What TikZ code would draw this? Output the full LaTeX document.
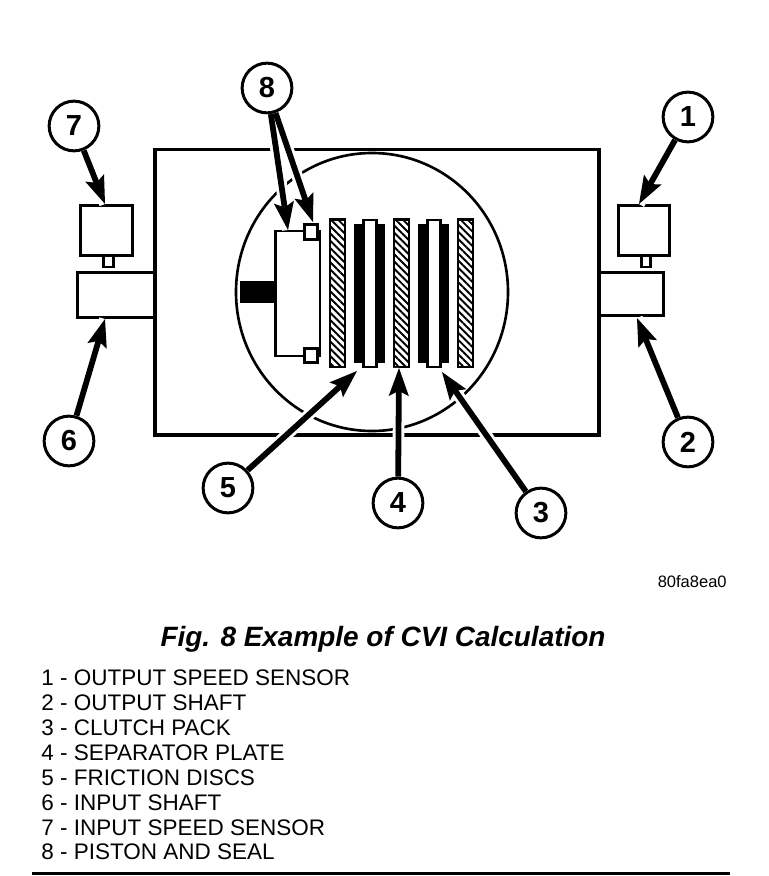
\documentclass[tikz,border=0pt]{standalone}
\usepackage{fontspec}
\setmainfont{Liberation Sans}
\usetikzlibrary{arrows.meta,patterns.meta}
\tikzset{
    part/.style={draw, line width=1.7pt, fill=white},
    plate/.style={draw, line width=1.5pt, pattern={Lines[angle=-45, distance=2.9pt, line width=1.1pt]}},
    disc/.style={fill=black},
    callout/.style={draw, circle, line width=1.7pt, fill=white, minimum size=28.3pt, inner sep=0pt, font=\fontsize{16.5}{17}\selectfont\bfseries},
    lead/.style={line width=3.3pt, -{Stealth[length=16pt, width=11.5pt, inset=3pt, line width=0pt]}},
    halo/.style={line width=6.6pt, draw=white, shorten >=9pt},
    legend/.style={anchor=base west, inner sep=0pt, font=\fontsize{12.8}{14}\selectfont}
}

\begin{document}
\begin{tikzpicture}[x=0.02cm, y=-0.02cm, line join=miter]
    \useasboundingbox (0,0) rectangle (768,876);

    % Callouts
    \node[callout] (N1) at (688,117) {1};
    \node[callout] (N2) at (688,442) {2};
    \node[callout] (N3) at (541,513) {3};
    \node[callout] (N4) at (398,503) {4};
    \node[callout] (N5) at (228,488) {5};
    \node[callout] (N6) at (69,441) {6};
    \node[callout] (N7) at (74,126) {7};
    \node[callout] (N8) at (267,88) {8};

    % Arrow tips
    \coordinate (T1) at (639,204);
    \coordinate (T2) at (637,318);
    \coordinate (T3) at (442,372);
    \coordinate (T4) at (399,368);
    \coordinate (T5) at (357,371);
    \coordinate (T6) at (105,319);
    \coordinate (T7) at (105,204);
    \coordinate (T8a) at (288,230);
    \coordinate (T8b) at (313,222);

    % Housing and circle
    \draw[line width=2.1pt] (155,149.5) rectangle (599,435);
    \draw[line width=1.5pt] (372,292) ellipse [x radius=136, y radius=139];

    % Input side
    \draw[part] (77.5,272.5) -- (154,272.5) -- (154,317.5) -- (77.5,317.5) -- cycle;
    \draw[part] (103.5,256) rectangle (113.5,267);
    \draw[part] (80.5,205.5) rectangle (132.5,255.5);

    % Output side
    \draw[part] (600,272.5) -- (663.5,272.5) -- (663.5,315.5) -- (600,315.5) -- cycle;
    \draw[part] (641.5,256) rectangle (650.5,267);
    \draw[part] (618.5,205.5) rectangle (669.5,255.5);

    % Piston and seals
    \fill (240,281) rectangle (275,303);
    \draw[part] (275.5,231) rectangle (320,356);
    \draw[part] (304.5,224.5) rectangle (317.5,239.5);
    \draw[part] (304.5,348.5) rectangle (317.5,362.5);

    % Separator plates
    \draw[plate] (330,219.5) rectangle (345,367);
    \draw[plate] (394,219.5) rectangle (409,367);
    \draw[plate] (458,219.5) rectangle (473,367);

    % Friction discs
    \fill[disc] (354,224) rectangle (385,363);
    \draw[part] (363.5,220) rectangle (376.5,367);
    \fill[disc] (418,224) rectangle (449,363);
    \draw[part] (427.5,220) rectangle (440.5,367);

    % White gaps under the arrows
    \draw[halo] (N1) -- (T1) (N2) -- (T2) (N3) -- (T3) (N4) -- (T4) (N5) -- (T5)
        (N6) -- (T6) (N7) -- (T7) (N8) -- (T8a) (N8) -- (T8b);

    % Arrows
    \draw[lead] (N1) -- (T1);
    \draw[lead] (N2) -- (T2);
    \draw[lead] (N3) -- (T3);
    \draw[lead] (N4) -- (T4);
    \draw[lead] (N5) -- (T5);
    \draw[lead] (N6) -- (T6);
    \draw[lead] (N7) -- (T7);
    \draw[lead] (N8) -- (T8a);
    \draw[lead] (N8) -- (T8b);

    % Texts
    \node[anchor=base east, inner sep=0pt, font=\fontsize{9.4}{11}\selectfont] (code) at (727,587) {80fa8ea0};
    \node[anchor=base, inner sep=0pt, font=\fontsize{15.9}{17}\selectfont\bfseries\itshape] (title) at (383,646) {Fig. 8 Example of CVI Calculation};

    % Legend
    \node[legend] (L1) at (41,685) {1 - OUTPUT SPEED SENSOR};
    \node[legend] (L2) at (41,710) {2 - OUTPUT SHAFT};
    \node[legend] (L3) at (41,735) {3 - CLUTCH PACK};
    \node[legend] (L4) at (41,760) {4 - SEPARATOR PLATE};
    \node[legend] (L5) at (41,785) {5 - FRICTION DISCS};
    \node[legend] (L6) at (41,810) {6 - INPUT SHAFT};
    \node[legend] (L7) at (41,835) {7 - INPUT SPEED SENSOR};
    \node[legend] (L8) at (41,859) {8 - PISTON AND SEAL};

    % Rule
    \draw[line width=1.7pt] (32,873.5) -- (730,873.5);

\end{tikzpicture}
\end{document}
